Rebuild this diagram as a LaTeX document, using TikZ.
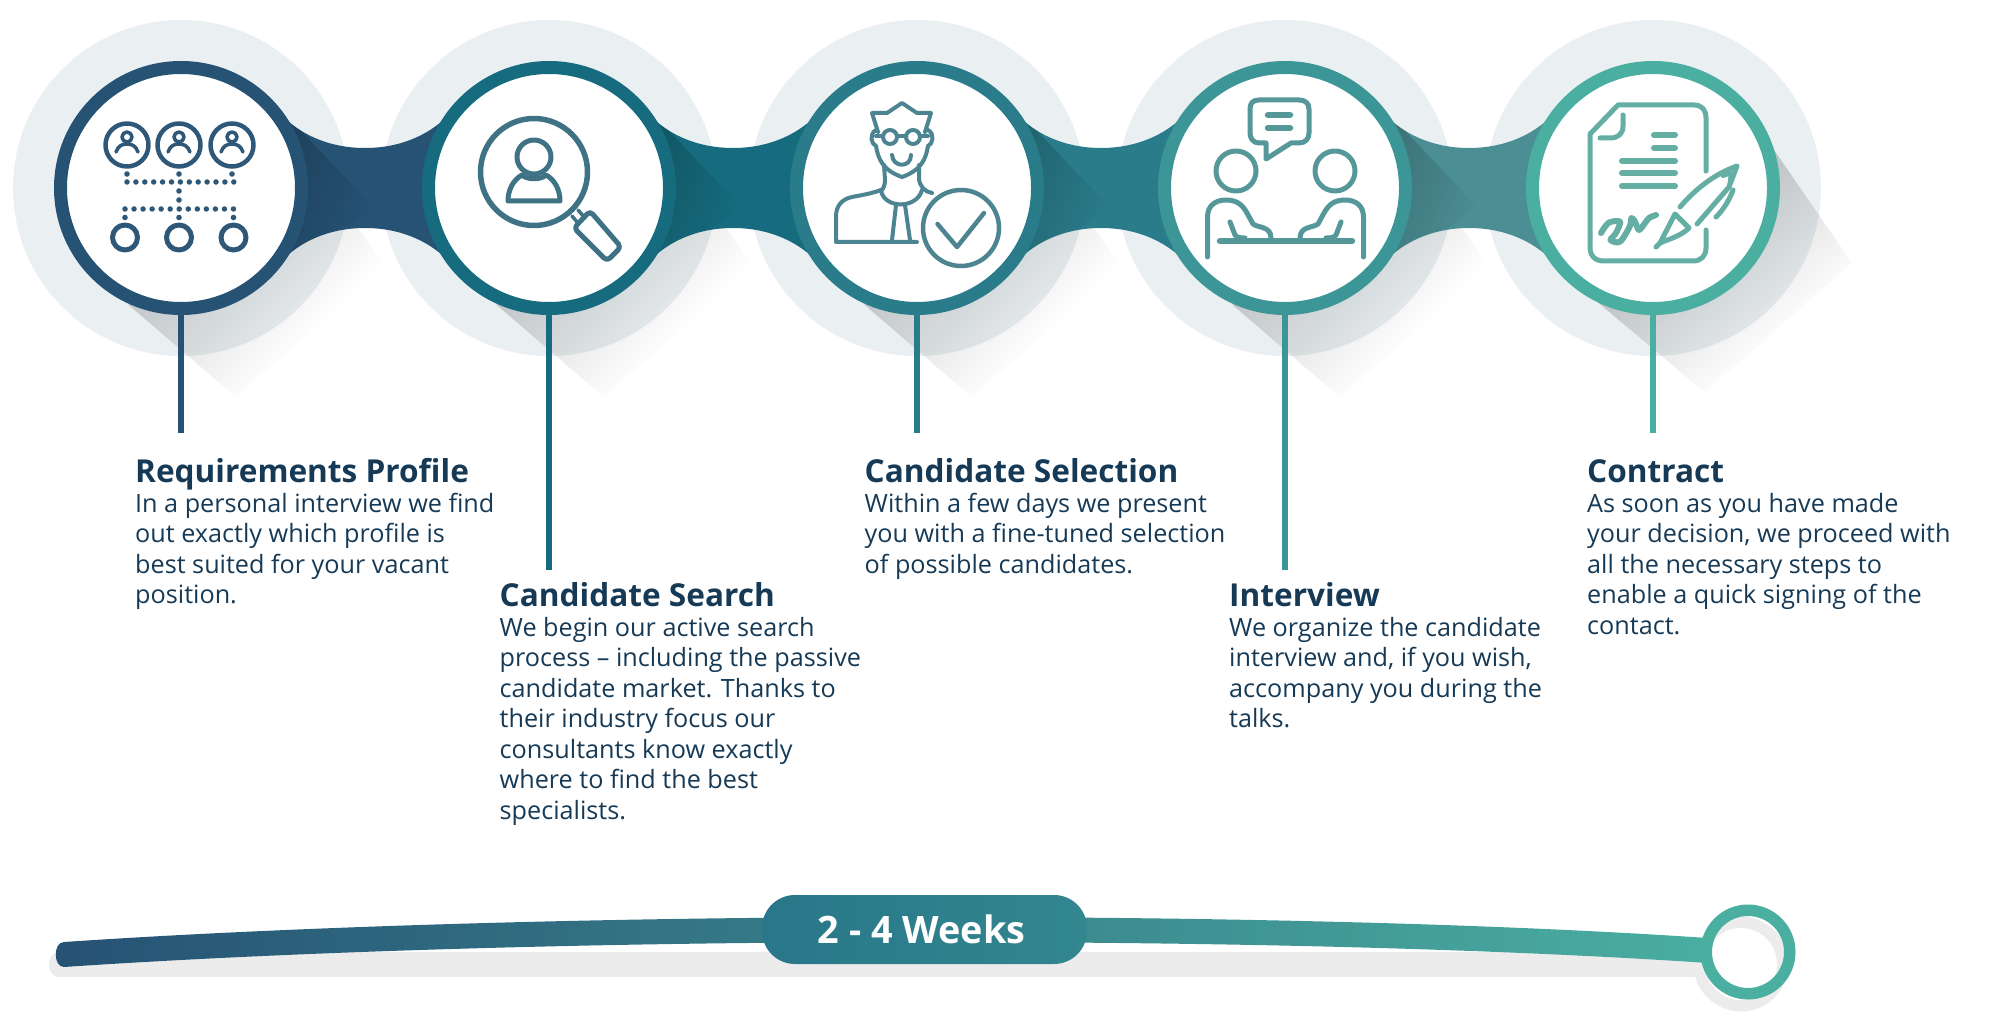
\documentclass[tikz,border=0pt]{standalone}
\usepackage{fontspec}
\setmainfont{Open Sans}
\usetikzlibrary{calc,fadings}
\definecolor{stepone}{HTML}{265274}
\definecolor{steptwo}{HTML}{166C7E}
\definecolor{stepthree}{HTML}{2A7C8B}
\definecolor{stepfour}{HTML}{3C9596}
\definecolor{stepfive}{HTML}{4AAEA1}
\definecolor{neckfour}{HTML}{4B8E94}
\definecolor{iconone}{HTML}{2F5878}
\definecolor{icontwo}{HTML}{3E7284}
\definecolor{iconthree}{HTML}{4D8492}
\definecolor{iconfour}{HTML}{56979A}
\definecolor{iconfive}{HTML}{64AEA4}
\definecolor{halo}{HTML}{EAEFF2}
\definecolor{ghost}{HTML}{ECECEC}
\definecolor{inktext}{HTML}{163A56}
\definecolor{pillstart}{HTML}{28778A}
\definecolor{pillend}{HTML}{33878F}
\tikzfading[name=shadowfade,left color=transparent!0,right color=transparent!100]
\tikzset{
	ringnode/.style={circle,draw=#1,fill=white,line width=13,minimum size=241,inner sep=0},
	stemline/.style={draw=#1,line width=6},
	icon/.style={draw=#1,line width=4.5,line cap=round,line join=round},
	dotline/.style={draw=#1,line width=5.5,line cap=round,dash pattern=on 0pt off 8.9pt},
	longshadow/.style={fill=black,fill opacity=0.3,path fading=shadowfade,fading transform={rotate=-49,xshift=-7,scale=1.0}},
	titletext/.style={anchor=base west,inner sep=0,text=inktext,font=\fontsize{31.6}{32}\selectfont\bfseries},
	bodytext/.style={anchor=north west,inner sep=0,align=left,text=inktext,font=\fontsize{25.2}{30.5}\selectfont},
}
\newcommand{\neckpath}[1]{($(#1)+(90,-85)$) .. controls ($(#1)+(114,-53)$) and ($(#1)+(149,-40)$) .. ($(#1)+(184,-40)$) .. controls ($(#1)+(219,-40)$) and ($(#1)+(254,-53)$) .. ($(#1)+(278,-85)$) -- ($(#1)+(278,85)$) .. controls ($(#1)+(254,53)$) and ($(#1)+(219,40)$) .. ($(#1)+(184,40)$) .. controls ($(#1)+(149,40)$) and ($(#1)+(114,53)$) .. ($(#1)+(90,85)$) -- cycle}
\newcommand{\neckshape}[2]{%
	\fill[#2] \neckpath{#1};
	\begin{scope}
		\clip \neckpath{#1};
		\fill[black,fill opacity=0.2,path fading=shadowfade,fading transform={rotate=-35}] ($(#1)+(94,-85)$) -- ($(#1)+(192,19)$) -- ($(#1)+(105,82)$) -- cycle;
	\end{scope}
}
\begin{document}
\begin{tikzpicture}[x=1pt,y=-1pt]
	\useasboundingbox (0,0) rectangle (2000,1024);
	\coordinate (reqcentre) at (181,188);
	\coordinate (searchcentre) at (549,188);
	\coordinate (selectcentre) at (917,188);
	\coordinate (talkcentre) at (1285,188);
	\coordinate (signcentre) at (1653,188);
	% halos and long shadows
	\foreach \centre in {reqcentre,searchcentre,selectcentre,talkcentre,signcentre}
		\filldraw[draw=none,fill=halo] (\centre) circle (168);
	\foreach \centre in {reqcentre,searchcentre,selectcentre,talkcentre}
		\fill[longshadow] ($(\centre)+(95,-85)$) -- ($(\centre)+(205,80)$) -- ($(\centre)+(56,210)$) -- ($(\centre)+(-52,117)$) -- cycle;
	\fill[longshadow] ($(signcentre)+(122,-38)$) -- ($(signcentre)+(200,75)$) -- ($(signcentre)+(53,205)$) -- ($(signcentre)+(-54,115)$) -- cycle;
	% necks
	\neckshape{reqcentre}{stepone}
	\neckshape{searchcentre}{steptwo}
	\neckshape{selectcentre}{stepthree}
	\neckshape{talkcentre}{neckfour}
	% rings
	\node[ringnode=stepone] (reqring) at (reqcentre) {};
	\node[ringnode=steptwo] (searchring) at (searchcentre) {};
	\node[ringnode=stepthree] (selectring) at (selectcentre) {};
	\node[ringnode=stepfour] (talkring) at (talkcentre) {};
	\node[ringnode=stepfive] (signring) at (signcentre) {};
	% stems
	\coordinate (reqstem) at (181,433);
	\coordinate (searchstem) at (549,570);
	\coordinate (selectstem) at (917,433);
	\coordinate (talkstem) at (1285,570);
	\coordinate (signstem) at (1653,433);
	\draw[stemline=stepone] (reqring.south) -- (reqstem);
	\draw[stemline=steptwo] (searchring.south) -- (searchstem);
	\draw[stemline=stepthree] (selectring.south) -- (selectstem);
	\draw[stemline=stepfour] (talkring.south) -- (talkstem);
	\draw[stemline=stepfive] (signring.south) -- (signstem);
	% icon: requirements
	\foreach \cx in {127,179,232} {
		\draw[icon=iconone] (\cx,145) circle (21.5);
		\draw[icon=iconone,line width=3.5] (\cx,137) circle (5);
		\draw[icon=iconone,line width=3.5] ({\cx-11},152) .. controls ({\cx-9},146) and ({\cx-5},144) .. (\cx,144) .. controls ({\cx+5},144) and ({\cx+9},146) .. ({\cx+11},152);
		\fill[iconone] (\cx,174) circle (2.8);
	}
	\draw[dotline=iconone] (127,182) -- (234,182);
	\fill[iconone] (179,191) circle (2.8);
	\fill[iconone] (179,200) circle (2.8);
	\draw[dotline=iconone,dash pattern=on 0pt off 9.04pt] (125,209) -- (234.5,209);
	\foreach \cx in {125,179,233.5} {
		\fill[iconone] (\cx,217.5) circle (2.8);
		\draw[icon=iconone,line width=5] (\cx,237.5) circle (12.5);
	}
	% icon: magnifier
	\draw[icon=icontwo,line width=5.5] (534,172) circle (53.5);
	\draw[icon=icontwo,line width=5] (534,157) circle (17);
	\draw[icon=icontwo,line width=5] (522,175) .. controls (513,180) and (508,190) .. (508,201) -- (560,201) .. controls (560,190) and (555,180) .. (546,175) .. controls (541,180) and (527,180) .. (522,175);
	\draw[icon=icontwo,line width=5,rounded corners=4] (590,211) -- (621,247) -- (607,261) -- (574,228) -- cycle;
	\draw[icon=icontwo,line width=3.5] (578,210) -- (585,218);
	\draw[icon=icontwo,line width=3.5] (572,216) -- (578,223);
	% icon: candidate
	\draw[icon=iconthree,line width=4] (878,132) -- (872,113) -- (887,113) -- (902,103) -- (917,113) -- (931,113) -- (925,132);
	\draw[icon=iconthree,line width=4] (876,136) -- (882,136);
	\draw[icon=iconthree,line width=4] (898,136) -- (905,136);
	\draw[icon=iconthree,line width=4] (921,136) -- (928,136);
	\draw[icon=iconthree,line width=4] (890,137) circle (7);
	\draw[icon=iconthree,line width=4] (913,137) circle (7);
	\draw[icon=iconthree,line width=4] (876,130) .. controls (869,134) and (871,144) .. (876,146) .. controls (878,158) and (882,170) .. (902,177) .. controls (922,170) and (926,158) .. (928,146) .. controls (933,144) and (935,134) .. (928,130);
	\draw[icon=iconthree,line width=4] (892,155) .. controls (893,168) and (911,168) .. (911,155);
	\draw[icon=iconthree,line width=4] (884,165) -- (885,180) .. controls (885,186) and (883,189) .. (881,191);
	\draw[icon=iconthree,line width=4] (919,165) -- (919,178) .. controls (919,186) and (925,192) .. (932,193);
	\draw[icon=iconthree,line width=4] (881,191) .. controls (885,209) and (917,209) .. (922,190);
	\draw[icon=iconthree,line width=4] (881,190) .. controls (870,194) and (862,195) .. (852,197) .. controls (842,199) and (836,206) .. (836,216) -- (836,242) -- (917,242);
	\draw[icon=iconthree,line width=4] (896,205) -- (892,240);
	\draw[icon=iconthree,line width=4] (905,205) -- (910,240);
	\draw[icon=iconthree,line width=4.5] (961,228) circle (38);
	\draw[icon=iconthree,line width=4.5] (937.5,224) -- (957,247) -- (984,213);
	% icon: interview
	\draw[icon=iconfour,line width=5] (1266,143) -- (1266,159) -- (1291,143) -- (1299,143) .. controls (1306,143) and (1309,138) .. (1309,133) -- (1309,109) .. controls (1309,103) and (1305,100) .. (1299,100) -- (1259,100) .. controls (1253,100) and (1250,103) .. (1250,109) -- (1250,133) .. controls (1250,138) and (1253,143) .. (1259,143) -- cycle;
	\draw[icon=iconfour,line width=6.5] (1268,115) -- (1290,115);
	\draw[icon=iconfour,line width=6.5] (1268,128) -- (1290,128);
	\draw[icon=iconfour,line width=5] (1236,171) circle (20);
	\draw[icon=iconfour,line width=5] (1335,171) circle (20);
	\draw[icon=iconfour,line width=6.5] (1220,241) -- (1352,241);
	\draw[icon=iconfour,line width=5] (1207.5,257) -- (1207.5,217) .. controls (1207.5,206) and (1215,200) .. (1226,200) .. controls (1238,200) and (1243,206) .. (1247,213) -- (1253,224) .. controls (1258,228) and (1271,226) .. (1271,238);
	\draw[icon=iconfour,line width=5] (1230,222) -- (1235,235) .. controls (1237,238) and (1242,238) .. (1245,238);
	\draw[icon=iconfour,line width=5] (1363.5,257) -- (1363.5,217) .. controls (1363.5,206) and (1356,200) .. (1345,200) .. controls (1333,200) and (1328,206) .. (1324,213) -- (1318,224) .. controls (1313,228) and (1300,226) .. (1300,238);
	\draw[icon=iconfour,line width=5] (1341,222) -- (1336,235) .. controls (1334,238) and (1329,238) .. (1326,238);
	% icon: contract
	\draw[icon=iconfive,line width=5] (1706,171) -- (1706,118) .. controls (1706,110) and (1702,105) .. (1694,105) -- (1618,105) -- (1590,134) -- (1590,247) .. controls (1590,256) and (1595,261) .. (1604,261) -- (1693,261) .. controls (1701,261) and (1706,256) .. (1706,248) -- (1706,230);
	\draw[icon=iconfive,line width=5] (1623,115) -- (1623,126) .. controls (1623,134) and (1618,138) .. (1610,138) -- (1600,138);
	\draw[icon=iconfive,line width=6] (1654,135) -- (1675,135);
	\draw[icon=iconfive,line width=6] (1654,148) -- (1675,148);
	\draw[icon=iconfive,line width=6] (1622,161) -- (1675,161);
	\draw[icon=iconfive,line width=6] (1622,173) -- (1675,173);
	\draw[icon=iconfive,line width=6] (1622,186) -- (1675,186);
	\draw[icon=iconfive,line width=5] (1680,207) .. controls (1697,187) and (1717,173) .. (1737,166) -- (1729,187) -- (1697,224);
	\draw[icon=iconfive,line width=4] (1723,176) -- (1731,173) -- (1729,187);
	\draw[icon=iconfive,line width=5] (1733,190) .. controls (1729,201) and (1723,210) .. (1716,217);
	\draw[icon=iconfive,line width=5] (1675,214) -- (1689,228) .. controls (1681,236) and (1669,239) .. (1660,243) -- cycle;
	\draw[icon=iconfive,line width=5] (1660,243) -- (1656,247);
	\draw[icon=iconfive,line width=6] plot[smooth] coordinates {(1601,233) (1608.6,222.7) (1620,221.7) (1616,233) (1610.5,240) (1620,241.7) (1629.6,226.7) (1631.5,218) (1635,221.7) (1639,230) (1645,223) (1649,218) (1656,215)};
	% captions
	\node[titletext] (reqtitle) at (135,482) {Requirements Profile};
	\node[bodytext] (reqtext) at (135,493) {In a personal interview we find\\out exactly which profile is\\best suited for your vacant\\position.};
	\node[titletext] (searchtitle) at (499.5,606) {Candidate Search};
	\node[bodytext] (searchtext) at (499.5,617) {We begin our active search\\process – including the passive\\candidate market. Thanks to\\their industry focus our\\consultants know exactly\\where to find the best\\specialists.};
	\node[titletext] (selecttitle) at (864.5,482) {Candidate Selection};
	\node[bodytext] (selecttext) at (864.5,493) {Within a few days we present\\you with a fine-tuned selection\\of possible candidates.};
	\node[titletext] (talktitle) at (1229,606) {Interview};
	\node[bodytext] (talktext) at (1229,617) {We organize the candidate\\interview and, if you wish,\\accompany you during the\\talks.};
	\node[titletext] (signtitle) at (1587,482) {Contract};
	\node[bodytext] (signtext) at (1587,493) {As soon as you have made\\your decision, we proceed with\\all the necessary steps to\\enable a quick signing of the\\contact.};
	% timeline
	\fill[ghost] (60,952) -- (1702,952) -- (1702,977) -- (60,977) .. controls (45,977) and (45,952) .. (60,952) -- cycle;
	\fill[ghost,even odd rule] (1741,964) circle (47.5) (1741,964) circle (36);
	\shade[left color=stepone,middle color=stepthree,right color=stepfive] (64,942) .. controls (300,926) and (620,917) .. (925,917) .. controls (1230,917) and (1500,924) .. (1708,938) -- (1708,963) .. controls (1500,949) and (1230,942) .. (925,942) .. controls (620,942) and (300,951) .. (64,967) .. controls (53,967) and (53,942) .. (64,942) -- cycle;
	\node[circle,draw=stepfive,line width=11.5,minimum size=83.5,inner sep=0] (endring) at (1748,952) {};
	\node[rectangle,rounded corners=33,left color=pillstart,right color=pillend,minimum width=325,minimum height=69,inner sep=0,text=white,font=\fontsize{37.8}{40}\selectfont\bfseries] (weekspill) at (924.5,929.5) {2 - 4 Weeks\kern6pt};
\end{tikzpicture}
\end{document}
